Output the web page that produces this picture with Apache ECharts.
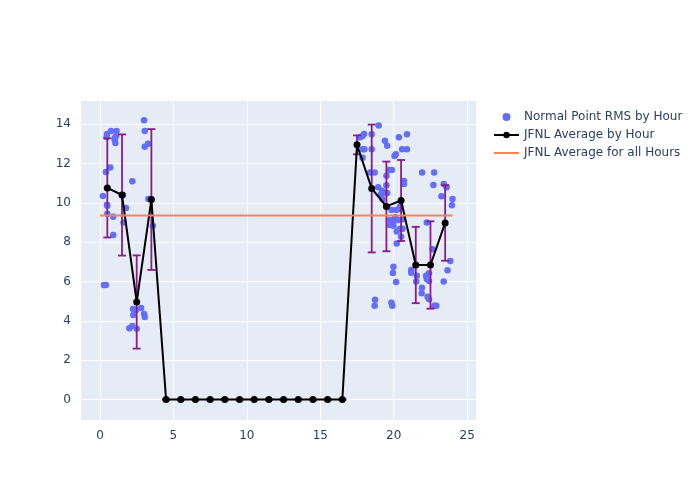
<!DOCTYPE html>
<html>
<head>
<meta charset="utf-8">
<script src="https://cdn.jsdelivr.net/npm/echarts@6/dist/echarts.min.js"></script>
<style>html,body{margin:0;padding:0;background:#fff;}#chart{width:700px;height:500px;}</style>
</head>
<body>
<div id="chart"></div>
<script>
// Scatter: individual normal point RMS values by hour of day
const ptHour = [0.2,0.27,0.4,0.48,0.45,0.4,0.48,0.5,0.7,0.75,0.9,1.0,1.05,1.13,0.9,1.1,1.0,0.5,
  1.57,1.77,1.6,2.2,2.0,2.2,2.25,2.27,2.5,2.45,2.8,3.0,3.05,3.0,3.05,3.05,3.27,3.3,3.6,
  18.97,17.98,17.87,17.7,18.5,19.4,19.55,20.35,20.9,18.0,17.9,18.5,17.87,20.05,20.14,20.57,20.9,
  18.4,18.7,19.67,19.87,19.5,21.93,22.75,22.7,20.7,20.7,23.4,23.6,23.25,24.0,23.96,
  18.94,19.2,19.4,19.12,19.23,19.5,19.55,19.85,20.16,20.4,20.43,19.75,19.98,20.1,20.3,20.6,
  19.75,19.98,20.4,20.2,20.6,20.5,20.2,22.25,22.64,23.85,23.66,19.98,19.94,20.16,
  21.19,21.19,21.57,21.53,21.92,21.9,22.2,22.25,22.4,22.4,22.3,22.4,23.4,22.77,22.9,
  18.73,18.7,19.84,19.9];
const ptRms = [10.35,5.82,5.82,13.5,13.35,11.57,9.9,9.45,11.8,13.65,8.37,13.2,13.05,13.65,9.3,13.4,13.3,9.85,
  10.4,9.74,9.0,11.1,3.63,3.74,4.6,4.3,3.6,4.55,4.66,4.35,4.2,14.2,13.65,12.85,13.0,10.2,8.84,
  13.93,13.5,13.4,13.34,13.49,13.16,12.9,13.34,13.49,12.73,12.73,12.73,12.3,12.38,12.47,12.73,12.73,
  11.54,11.54,11.67,11.67,11.38,11.54,11.54,10.91,11.11,10.96,10.96,10.8,10.33,10.2,9.88,
  10.79,10.62,10.52,10.42,10.18,10.9,10.5,9.64,9.64,9.69,9.81,9.13,9.04,9.27,9.13,9.17,
  8.88,8.84,8.67,8.54,8.69,8.28,7.94,9.0,7.64,7.04,6.57,6.75,6.43,5.98,
  6.59,6.45,6.3,6.0,5.69,5.4,6.3,6.13,6.42,6.03,5.23,5.1,6.0,4.77,4.77,
  5.08,4.77,4.92,4.77];

// Hourly averages with error (std) bars
const avgHour = [0.5,1.5,2.5,3.5,4.5,5.5,6.5,7.5,8.5,9.5,10.5,11.5,12.5,13.5,14.5,15.5,16.5,17.5,18.5,19.5,20.5,21.5,22.5,23.5];
const avgRms  = [10.76,10.4,4.96,10.17,0,0,0,0,0,0,0,0,0,0,0,0,0,12.95,10.73,9.82,10.12,6.84,6.84,8.98];
const avgErr  = [2.52,3.08,2.37,3.58,0,0,0,0,0,0,0,0,0,0,0,0,0,0.48,3.25,2.28,2.06,1.94,2.22,1.92];

// Overall average
const allHoursX = [0, 24];
const allHoursAvg = 9.36;

const names = ['Normal Point RMS by Hour','JFNL Average by Hour','JFNL Average for all Hours'];
const FONT = 'DejaVu Sans';
const TXT = '#2a3f5f';
const ORANGE = '#f88454';

const chart = echarts.init(document.getElementById('chart'), null, {renderer:'canvas'});
chart.setOption({
  animation: false,
  backgroundColor: '#ffffff',
  textStyle: {fontFamily: FONT},
  grid: {left: 80, right: 224, top: 100, bottom: 80, show: true, backgroundColor: '#E5ECF6', borderWidth: 0},
  legend: {
    data: [
      {name: names[0], icon: 'circle'},
      {name: names[1]},
      {name: names[2], icon: 'path://M0,0L25,0L25,2L0,2Z'}
    ],
    symbolKeepAspect: true,
    orient: 'vertical', left: 488, top: 106,
    itemWidth: 25, itemHeight: 8, itemGap: 6,
    textStyle: {color: TXT, fontSize: 12, fontFamily: FONT}
  },
  xAxis: {
    type: 'value', min: -1.36, max: 25.6, splitNumber: 5,
    axisLine: {show: false}, axisTick: {show: false},
    axisLabel: {color: TXT, fontSize: 12, fontFamily: FONT, showMinLabel: false, showMaxLabel: false, margin: 10,
      formatter: v => (Math.abs(v % 5) < 1e-9 ? String(v) : '')},
    splitLine: {lineStyle: {color: '#ffffff', width: 1}}
  },
  yAxis: {
    type: 'value', min: -1.04, max: 15.23, splitNumber: 8,
    axisLine: {show: false}, axisTick: {show: false},
    axisLabel: {color: TXT, fontSize: 12, fontFamily: FONT, showMinLabel: false, showMaxLabel: false, margin: 9,
      formatter: v => (Math.abs(v % 2) < 1e-9 ? String(v) : '')},
    splitLine: {lineStyle: {color: '#ffffff', width: 1}}
  },
  series: [
    {
      name: names[0], type: 'scatter',
      data: ptHour.map((h, i) => [h, ptRms[i]]),
      symbol: 'circle', symbolSize: 6.5,
      itemStyle: {color: '#636efa', opacity: 1},
      z: 2
    },
    {
      name: 'errbars', type: 'custom',
      data: avgHour.map((h, i) => [h, avgRms[i], avgErr[i]]),
      renderItem: function (params, api) {
        const x = api.value(0), y = api.value(1), e = api.value(2);
        const lo = api.coord([x, y - e]);
        const hi = api.coord([x, y + e]);
        const w = 4;
        const style = {stroke: '#8b1a8b', lineWidth: 1.8, fill: null};
        return {
          type: 'group',
          children: [
            {type: 'line', shape: {x1: lo[0], y1: lo[1], x2: hi[0], y2: hi[1]}, style: style},
            {type: 'line', shape: {x1: hi[0] - w, y1: hi[1], x2: hi[0] + w, y2: hi[1]}, style: style},
            {type: 'line', shape: {x1: lo[0] - w, y1: lo[1], x2: lo[0] + w, y2: lo[1]}, style: style}
          ]
        };
      },
      z: 3
    },
    {
      name: names[1], type: 'line',
      data: avgHour.map((h, i) => [h, avgRms[i]]),
      symbol: 'circle', symbolSize: 7, showSymbol: true,
      lineStyle: {color: '#000000', width: 2},
      itemStyle: {color: '#000000'},
      z: 4
    },
    {
      name: names[2], type: 'line',
      data: allHoursX.map(x => [x, allHoursAvg]),
      symbol: 'none',
      lineStyle: {color: ORANGE, width: 2},
      itemStyle: {color: ORANGE},
      z: 5
    }
  ]
});
</script>
</body>
</html>
